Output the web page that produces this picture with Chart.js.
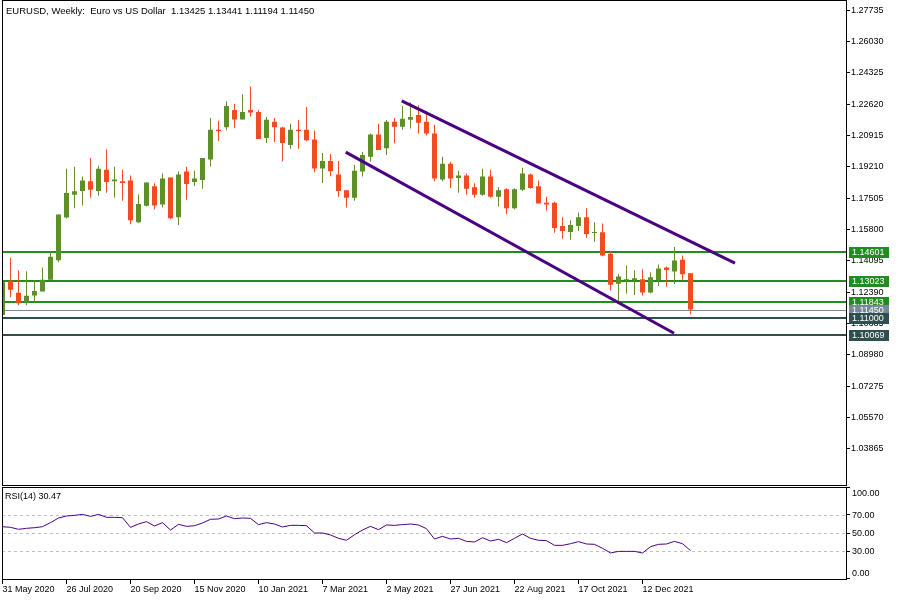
<!DOCTYPE html>
<html><head><meta charset="utf-8">
<script src="https://cdn.jsdelivr.net/npm/chart.js@4.4.1/dist/chart.umd.min.js"></script>
<style>
html,body{margin:0;padding:0;background:#fff;overflow:hidden;width:900px;height:600px}
#main{position:absolute;left:0;top:0}
#rsiPanel{position:absolute;left:0;top:486px}
</style></head>
<body>
<canvas id="main" width="900" height="486"></canvas>
<canvas id="rsiPanel" width="900" height="114"></canvas>
<script>
// ---------- data ----------
const titleText = "EURUSD, Weekly:  Euro vs US Dollar  1.13425 1.13441 1.11194 1.11450";
const rsiTitle = "RSI(14) 30.47";
const weekLabels = ["31 May 2020","26 Jul 2020","20 Sep 2020","15 Nov 2020","10 Jan 2021","7 Mar 2021","2 May 2021","27 Jun 2021","22 Aug 2021","17 Oct 2021","12 Dec 2021"];
const weekTickIndex = [0,8,16,24,32,40,48,56,64,72,80];
const open = [1.1115,1.1301,1.1236,1.1184,1.1221,1.1243,1.1307,1.1413,1.1645,1.1769,1.1790,1.1842,1.1790,1.1905,1.1843,1.1842,1.1847,1.1620,1.1709,1.1815,1.1716,1.1863,1.1647,1.1895,1.1838,1.1849,1.1960,1.2123,1.2136,1.2230,1.2178,1.2230,1.2219,1.2077,1.2166,1.2134,1.2040,1.2123,1.2123,1.2070,1.1912,1.1953,1.1879,1.1794,1.1753,1.1895,1.1975,1.2097,1.2022,1.2166,1.2139,1.2177,1.2203,1.2166,1.2102,1.1852,1.1937,1.1860,1.1874,1.1810,1.1769,1.1868,1.1758,1.1799,1.1695,1.1796,1.1879,1.1815,1.1726,1.1726,1.1599,1.1567,1.1599,1.1647,1.1561,1.1565,1.1448,1.1285,1.1304,1.1306,1.1309,1.1237,1.1306,1.1374,1.1352,1.1416,1.13425];
const high = [1.1296,1.1427,1.1358,1.1353,1.1303,1.1374,1.1462,1.1661,1.1911,1.1921,1.1868,1.1969,1.1927,1.2017,1.1921,1.1905,1.1874,1.1772,1.1836,1.1831,1.1884,1.1863,1.1895,1.1921,1.1900,1.1969,1.2187,1.2171,1.2277,1.2262,1.2315,1.2357,1.2230,1.2192,1.2187,1.2139,1.2155,1.2176,1.2246,1.2118,1.1996,1.1990,1.1953,1.1794,1.1932,1.2001,1.2102,1.2155,1.2176,1.2187,1.2251,1.2272,1.2256,1.2224,1.2150,1.1975,1.1948,1.1900,1.1884,1.1831,1.1911,1.1905,1.1810,1.1804,1.1804,1.1916,1.1884,1.1847,1.1758,1.1731,1.1647,1.1630,1.1673,1.1695,1.1620,1.1613,1.1461,1.1337,1.1384,1.1358,1.1363,1.1347,1.1390,1.1379,1.1485,1.1438,1.13441];
const low = [1.1115,1.1211,1.1168,1.1168,1.1184,1.1243,1.1303,1.1402,1.1640,1.1695,1.1710,1.1753,1.1764,1.1780,1.1753,1.1737,1.1609,1.1615,1.1705,1.1689,1.1700,1.1636,1.1604,1.1742,1.1817,1.1801,1.1923,1.2061,1.2120,1.2130,1.2178,1.2194,1.2072,1.2051,1.2056,1.1950,1.2019,1.2019,1.2060,1.1891,1.1833,1.1870,1.1758,1.1700,1.1737,1.1868,1.1948,1.2012,1.1985,1.2049,1.2123,1.2129,1.2102,1.2091,1.1842,1.1842,1.1806,1.1780,1.1769,1.1753,1.1764,1.1753,1.1705,1.1663,1.1689,1.1790,1.1801,1.1721,1.1684,1.1562,1.1530,1.1524,1.1572,1.1535,1.1514,1.1434,1.1248,1.1182,1.1230,1.1224,1.1221,1.1232,1.1273,1.1269,1.1283,1.1305,1.11194];
const close = [1.1296,1.1253,1.1179,1.1220,1.1246,1.1307,1.1432,1.1661,1.1778,1.1788,1.1847,1.1796,1.1911,1.1838,1.1852,1.1833,1.1631,1.1719,1.1836,1.1710,1.1858,1.1641,1.1879,1.1827,1.1858,1.1969,1.2123,1.2115,1.2251,1.2178,1.2219,1.2216,1.2072,1.2177,1.2136,1.2051,1.2123,1.2115,1.2065,1.1912,1.1953,1.1897,1.1790,1.1753,1.1900,1.1985,1.2097,1.2012,1.2166,1.2139,1.2182,1.2192,1.2161,1.2102,1.1858,1.1937,1.1858,1.1874,1.1801,1.1769,1.1868,1.1758,1.1794,1.1695,1.1799,1.1884,1.1806,1.1721,1.1716,1.1588,1.1572,1.1604,1.1647,1.1556,1.1567,1.1439,1.1280,1.1324,1.1309,1.1315,1.1237,1.1321,1.1368,1.1360,1.1411,1.1337,1.11450];
const rsi = [57.0,56.3,54.1,55.2,55.9,57.0,61.5,66.7,68.9,69.6,70.7,68.5,70.7,67.4,67.4,67.0,56.3,60.0,62.6,57.8,61.5,53.3,59.6,57.4,58.1,61.1,65.2,65.6,68.9,65.9,66.7,66.3,59.3,61.5,60.0,56.7,58.5,58.5,58.1,50.0,50.0,47.8,44.1,41.9,48.1,53.3,57.4,53.7,58.9,58.5,59.3,60.0,58.9,54.8,43.3,46.3,43.3,44.1,40.7,40.0,44.8,41.1,43.0,39.3,44.1,48.9,44.1,41.9,41.5,36.3,36.3,38.1,40.4,37.8,37.4,33.0,27.8,29.6,29.6,29.6,27.8,34.8,37.4,37.8,40.7,38.1,30.47];
const priceTicks = [1.27735,1.26030,1.24325,1.22620,1.20915,1.19210,1.17505,1.15800,1.14095,1.12390,1.10685,1.08980,1.07275,1.05570,1.03865];
const rsiTicks = [0,30,50,70,100];
const rsiLevels = [70,50,30];
const levelValues = [1.14601,1.13023,1.11843,1.11450,1.11000,1.10069];
const levelLabels = ["1.14601","1.13023","1.11843","1.11450","1.11000","1.10069"];
const upperChannel = [{x:49.9,y:1.22791},{x:91.56,y:1.13977}];
const lowerChannel = [{x:42.9,y:1.20010},{x:83.94,y:1.10159}];

// ---------- styles ----------
const FONT = '"Liberation Sans", Arial, sans-serif';
const FS = 9;
const TITLE_FS = 9.5;
const GREEN = '#5b8f2f', RED = '#f34a26', CHANNEL = '#4b0082';
const levelStyles = [
  {color:'#228b22', width:2}, {color:'#228b22', width:2}, {color:'#228b22', width:2},
  {color:'#778899', width:1}, {color:'#2f4f4f', width:2}, {color:'#2f4f4f', width:2}
];
const X_MIN = -0.0625, X_MAX = 105.4375;

Chart.defaults.font.family = FONT;
Chart.defaults.font.size = FS;
Chart.defaults.color = '#000';
Chart.defaults.animation = false;

const idx = open.map((_, i) => i);
const candleColor = idx.map(i => close[i] >= open[i] ? GREEN : RED);

const mainPlugin = {
  id: 'mainPlugin',
  beforeDatasetsDraw(chart) {
    const {ctx, chartArea: a, scales: {y}} = chart;
    ctx.save();
    ctx.beginPath(); ctx.rect(a.left, a.top, a.right - a.left, a.bottom - a.top); ctx.clip();
    levelValues.forEach((v, i) => {
      const py = Math.round(y.getPixelForValue(v));
      const st = levelStyles[i];
      ctx.fillStyle = st.color;
      ctx.fillRect(a.left, py - Math.floor(st.width / 2), a.right - a.left, st.width);
    });
    ctx.restore();
  },
  afterDraw(chart) {
    const {ctx, scales: {y}} = chart;
    ctx.save();
    ctx.strokeStyle = '#000'; ctx.lineWidth = 1;
    ctx.strokeRect(2.5, 0.5, 844, 485);
    ctx.textBaseline = 'middle'; ctx.textAlign = 'left';
    ctx.fillStyle = '#000';
    ctx.font = TITLE_FS + 'px ' + FONT;
    ctx.fillText(titleText, 6, 11);
    ctx.font = FS + 'px ' + FONT;
    levelValues.forEach((v, i) => {
      const py = Math.round(y.getPixelForValue(v));
      ctx.fillStyle = levelStyles[i].color;
      ctx.fillRect(849, py - 5, 40, 11);
      ctx.fillStyle = '#fff';
      ctx.fillText(levelLabels[i], 852, py + 0.5);
    });
    ctx.restore();
  }
};

new Chart(document.getElementById('main'), {
  data: {
    datasets: [
      {type:'line', data:upperChannel, borderColor:CHANNEL, borderWidth:3, pointRadius:0, order:-2},
      {type:'line', data:lowerChannel, borderColor:CHANNEL, borderWidth:3, pointRadius:0, order:-2},
      {type:'bar', data: idx.map(i => ({x:i, y:[open[i], close[i]]})), backgroundColor:candleColor,
        barThickness:5, grouped:false, borderWidth:0, inflateAmount:0, order:0},
      {type:'bar', data: idx.map(i => ({x:i, y:[low[i], high[i]]})), backgroundColor:candleColor,
        barThickness:1, grouped:false, borderWidth:0, inflateAmount:0, order:1}
    ]
  },
  options: {
    responsive:false, animation:false,
    layout:{padding:{left:2, top:1, right:0, bottom:1}, autoPadding:false},
    plugins:{legend:{display:false}, tooltip:{enabled:false}},
    scales:{
      x:{type:'linear', display:false, offset:false, min:X_MIN, max:X_MAX},
      y:{type:'linear', position:'right', offset:false, min:1.022007, max:1.279317,
        afterBuildTicks: s => { s.ticks = priceTicks.map(v => ({value:v})); },
        afterFit: s => { s.width = 54; },
        grid:{drawOnChartArea:false, tickLength:4, color:'#000'},
        border:{display:false},
        ticks:{padding:1, autoSkip:false, callback: v => Number(v).toFixed(5)}
      }
    }
  },
  plugins:[mainPlugin]
});

const rsiPlugin = {
  id: 'rsiPlugin',
  beforeDatasetsDraw(chart) {
    const {ctx, chartArea: a, scales: {y}} = chart;
    ctx.save();
    ctx.strokeStyle = '#c0c0c0'; ctx.lineWidth = 1; ctx.setLineDash([3,3]);
    rsiLevels.forEach(v => {
      const py = Math.round(y.getPixelForValue(v)) + 0.5;
      ctx.beginPath(); ctx.moveTo(a.left, py); ctx.lineTo(a.right, py); ctx.stroke();
    });
    ctx.restore();
  },
  afterDraw(chart) {
    const {ctx, scales: {y}} = chart;
    ctx.save();
    ctx.strokeStyle = '#000'; ctx.lineWidth = 1;
    ctx.strokeRect(2.5, 1.5, 844, 92);
    ctx.font = FS + 'px ' + FONT;
    ctx.textBaseline = 'middle'; ctx.textAlign = 'left'; ctx.fillStyle = '#000';
    ctx.fillText(rsiTitle, 5, 11);
    rsiTicks.forEach(v => {
      let py = y.getPixelForValue(v);
      if (v === 100) py += 5;
      if (v === 0) py -= 5;
      ctx.fillText(v.toFixed(2), 852, py + 0.5);
    });
    ctx.restore();
  }
};

new Chart(document.getElementById('rsiPanel'), {
  type:'line',
  data:{datasets:[{data: idx.map(i => ({x:i, y:rsi[i]})), borderColor:CHANNEL, borderWidth:1, pointRadius:0, tension:0}]},
  options:{
    responsive:false, animation:false,
    layout:{padding:{left:2, top:1, right:0, bottom:0}, autoPadding:false},
    plugins:{legend:{display:false}, tooltip:{enabled:false}},
    scales:{
      x:{type:'linear', offset:false, min:X_MIN, max:X_MAX,
        afterBuildTicks: s => { s.ticks = weekTickIndex.map(v => ({value:v})); },
        afterFit: s => { s.height = 21; },
        grid:{drawOnChartArea:false, tickLength:5, color:'#000'},
        border:{display:false},
        ticks:{align:'start', padding:0, maxRotation:0, autoSkip:false,
          callback: v => weekLabels[weekTickIndex.indexOf(v)]}
      },
      y:{type:'linear', position:'right', min:-1.111, max:101.111,
        afterBuildTicks: s => { s.ticks = rsiTicks.map(v => ({value:v})); },
        afterFit: s => { s.width = 54; },
        grid:{drawOnChartArea:false, tickLength:4, color:'#000'},
        border:{display:false},
        ticks:{display:false}
      }
    }
  },
  plugins:[rsiPlugin]
});
</script>
</body></html>
